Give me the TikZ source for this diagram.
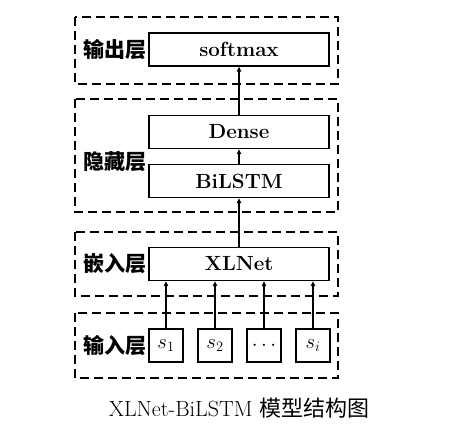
\documentclass[tikz,border=0pt]{standalone}
\usepackage{fontspec}
\newfontfamily\cjk{Noto Sans CJK SC}
\usetikzlibrary{arrows.meta}
\begin{document}
\begin{tikzpicture}[x=1pt,y=-1pt,
  layer/.style={draw, line width=1.4pt, dash pattern=on 9pt off 5pt},
  block/.style={draw, line width=1.3pt, minimum height=33pt, inner sep=0pt,
    font=\fontsize{20.5}{22}\selectfont\bfseries},
  tok/.style={draw, line width=1.3pt, minimum height=33pt, minimum width=34pt, inner sep=0pt,
    font=\fontsize{20}{22}\selectfont},
  lab/.style={font=\cjk\fontsize{21}{22}\selectfont\bfseries, inner sep=0pt},
  arr/.style={line width=1.2pt, -{Triangle[length=5pt,width=4.5pt]}}
]
\useasboundingbox (0,0) rectangle (459,437);
\fill[white] (0,0) rectangle (459,437);
% dashed layers
\draw[layer] (75,17) rectangle (338,84);
\draw[layer] (75,99) rectangle (338,212);
\draw[layer] (75,232) rectangle (338,296);
\draw[layer] (75,313) rectangle (338,378);
% blocks
\node[block, minimum width=180pt] (softmax) at (239,49.5) {softmax};
\node[block, minimum width=180pt] (dense) at (239,132) {Dense};
\node[block, minimum width=180pt] (bilstm) at (239,181) {BiLSTM};
\node[block, minimum width=180pt] (xlnet) at (239,264) {XLNet};
\node[tok] (s1) at (166,345.5) {$s_1$};
\node[tok] (s2) at (215,345.5) {$s_2$};
\node[tok] (s3) at (264,345.5) {$\cdots$};
\node[tok] (si) at (313,345.5) {$s_i$};
% labels
\node[lab] (l1) at (115,50) {输出层};
\node[lab] (l2) at (115,162) {隐藏层};
\node[lab] (l3) at (115,264) {嵌入层};
\node[lab] (l4) at (115,346) {输入层};
% arrows
\draw[arr] (s1.north) -- (s1.north |- xlnet.south);
\draw[arr] (s2.north) -- (s2.north |- xlnet.south);
\draw[arr] (s3.north) -- (s3.north |- xlnet.south);
\draw[arr] (si.north) -- (si.north |- xlnet.south);
\draw[arr] (xlnet.north) -- (bilstm.south);
\draw[arr] (bilstm.north) -- (dense.south);
\draw[arr] (dense.north) -- (softmax.south);
% caption
\node[inner sep=0pt, font=\fontsize{22}{24}\selectfont] (cap) at (239,408) {XLNet-BiLSTM {\cjk 模型结构图}};
\end{tikzpicture}
\end{document}
